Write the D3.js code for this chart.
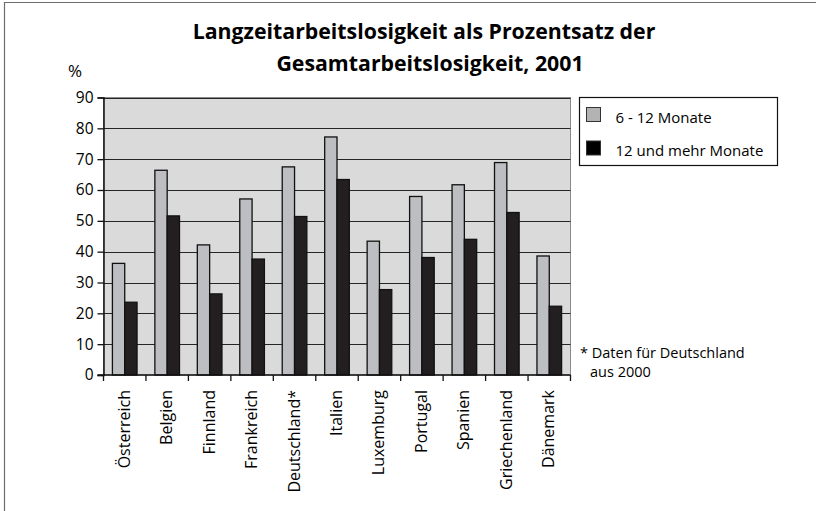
<!DOCTYPE html>
<html>
<head>
<meta charset="utf-8">
<script src="https://cdn.jsdelivr.net/npm/d3@7"></script>
<style>
  body { margin: 0; background: #fff; }
  svg { display: block; font-family: "Open Sans", "Noto Sans", sans-serif; }
</style>
</head>
<body>
<svg id="chart" width="816" height="511"></svg>
<script>
"use strict";

// Data
const countries = ["Österreich", "Belgien", "Finnland", "Frankreich", "Deutschland*",
    "Italien", "Luxemburg", "Portugal", "Spanien", "Griechenland", "Dänemark"];
const series = ["6 - 12 Monate", "12 und mehr Monate"];
const values6to12 = [36.2, 66.4, 42.2, 57.1, 67.5, 77.2, 43.4, 57.9, 61.7, 68.9, 38.6];
const values12plus = [23.6, 51.6, 26.3, 37.6, 51.4, 63.4, 27.7, 38.1, 44.0, 52.7, 22.3];
const yTicks = [0, 10, 20, 30, 40, 50, 60, 70, 80, 90];
const titleLines = ["Langzeitarbeitslosigkeit als Prozentsatz der", "Gesamtarbeitslosigkeit, 2001"];
const footnote = ["* Daten für Deutschland", "aus 2000"];

const colors = { "6 - 12 Monate": "#bdbec2", "12 und mehr Monate": "#231f20" };

const svg = d3.select("#chart");

// outer frame (only top and left edges are visible in the crop)
svg.append("path")
    .attr("d", "M4.5,511 V2.5 H816")
    .attr("fill", "none")
    .attr("stroke", "#6d6d6d")
    .attr("stroke-width", 1.2);

const plot = { left: 103.5, right: 570.5, top: 97.5, bottom: 375 };

const x = d3.scaleBand()
    .domain(countries)
    .range([plot.left, plot.right])
    .padding(0);

// the two bars sit in the middle 58% of each category
const xInner = d3.scaleBand()
    .domain(series)
    .range([x.bandwidth() * 0.21, x.bandwidth() * 0.79]);

const y = d3.scaleLinear()
    .domain([0, 90])
    .range([plot.bottom, plot.top]);

// plot background
svg.append("rect")
    .attr("x", plot.left)
    .attr("y", plot.top)
    .attr("width", plot.right - plot.left)
    .attr("height", plot.bottom - plot.top)
    .attr("fill", "#dadada")
    .attr("stroke", "#8a8a8a")
    .attr("stroke-width", 1);

// gridlines
svg.append("g")
    .selectAll("line")
    .data(yTicks.filter(d => d > 0))
    .enter().append("line")
        .attr("x1", plot.left)
        .attr("x2", plot.right)
        .attr("y1", d => Math.round(y(d)) + 0.5)
        .attr("y2", d => Math.round(y(d)) + 0.5)
        .attr("stroke", "#252525")
        .attr("stroke-width", 1.2);

// bars
const rows = countries.map((c, i) => ({ country: c, values: [values6to12[i], values12plus[i]] }));

svg.append("g")
    .selectAll("g")
    .data(rows)
    .enter().append("g")
        .attr("transform", d => `translate(${x(d.country)},0)`)
    .selectAll("rect")
    .data(d => series.map((s, j) => ({ key: s, value: d.values[j] })))
    .enter().append("rect")
        .attr("x", d => xInner(d.key))
        .attr("y", d => y(d.value))
        .attr("width", xInner.bandwidth())
        .attr("height", d => y(0) - y(d.value))
        .attr("fill", d => colors[d.key])
        .attr("stroke", "#111")
        .attr("stroke-width", 1.3);

// y axis
const yAxis = svg.append("g")
    .attr("transform", `translate(${plot.left},0)`)
    .call(d3.axisLeft(y).tickValues(yTicks).tickSize(6).tickPadding(4));
yAxis.select(".domain").attr("stroke", "#111").attr("stroke-width", 1.5);
yAxis.selectAll(".tick line").attr("stroke", "#111").attr("stroke-width", 1.3);
yAxis.selectAll(".tick text")
    .attr("font-family", "'Open Sans', sans-serif")
    .attr("font-size", 15.5)
    .attr("fill", "#000");

// x axis: ticks on category boundaries
const xAxis = svg.append("g")
    .attr("transform", `translate(0,${plot.bottom})`);
xAxis.append("line")
    .attr("x1", plot.left - 6)
    .attr("x2", plot.right)
    .attr("stroke", "#111")
    .attr("stroke-width", 1.5);
xAxis.selectAll("line.tick")
    .data(countries.concat(["__end"]))
    .enter().append("line")
        .attr("class", "tick")
        .attr("x1", (d, i) => i < countries.length ? x(d) : plot.right)
        .attr("x2", (d, i) => i < countries.length ? x(d) : plot.right)
        .attr("y1", 0)
        .attr("y2", 6)
        .attr("stroke", "#111")
        .attr("stroke-width", 1.3);
xAxis.selectAll("text")
    .data(countries)
    .enter().append("text")
        .attr("transform", d => `translate(${x(d) + x.bandwidth() / 2 + 5},15) rotate(-90)`)
        .attr("text-anchor", "end")
        .attr("font-size", 16)
        .attr("fill", "#000")
        .text(d => d);

// "%" unit label
svg.append("text")
    .attr("x", 75)
    .attr("y", 77)
    .attr("text-anchor", "middle")
    .attr("font-size", 17)
    .attr("fill", "#000")
    .text("%");

// title (line 2 sits slightly right of line 1 in the original)
svg.append("text")
    .attr("text-anchor", "middle")
    .attr("font-weight", "bold")
    .attr("font-size", 21.3)
    .attr("fill", "#000")
    .selectAll("tspan")
    .data(titleLines)
    .enter().append("tspan")
        .attr("x", (d, i) => i === 0 ? 424 : 430)
        .attr("y", (d, i) => 38.5 + i * 32)
        .text(d => d);

// legend
const legend = svg.append("g").attr("transform", "translate(579.5,97.5)");
legend.append("rect")
    .attr("width", 198)
    .attr("height", 68)
    .attr("fill", "#fff")
    .attr("stroke", "#111")
    .attr("stroke-width", 1.2);
const items = legend.selectAll("g.item")
    .data(series)
    .enter().append("g")
        .attr("class", "item")
        .attr("transform", (d, i) => `translate(7,${10 + i * 33.5})`);
items.append("rect")
    .attr("width", 14)
    .attr("height", 14)
    .attr("fill", (d, i) => i === 0 ? "#b3b3b3" : "#000")
    .attr("stroke", "#333")
    .attr("stroke-width", 1);
items.append("text")
    .attr("x", 29)
    .attr("y", 15)
    .attr("font-size", 15)
    .attr("fill", "#000")
    .text(d => d);

// footnote
svg.append("g")
    .selectAll("text")
    .data(footnote)
    .enter().append("text")
        .attr("x", (d, i) => i === 0 ? 580 : 590)
        .attr("y", (d, i) => 358 + i * 19)
        .attr("font-size", 14.5)
        .attr("fill", "#000")
        .text(d => d);
</script>
</body>
</html>
